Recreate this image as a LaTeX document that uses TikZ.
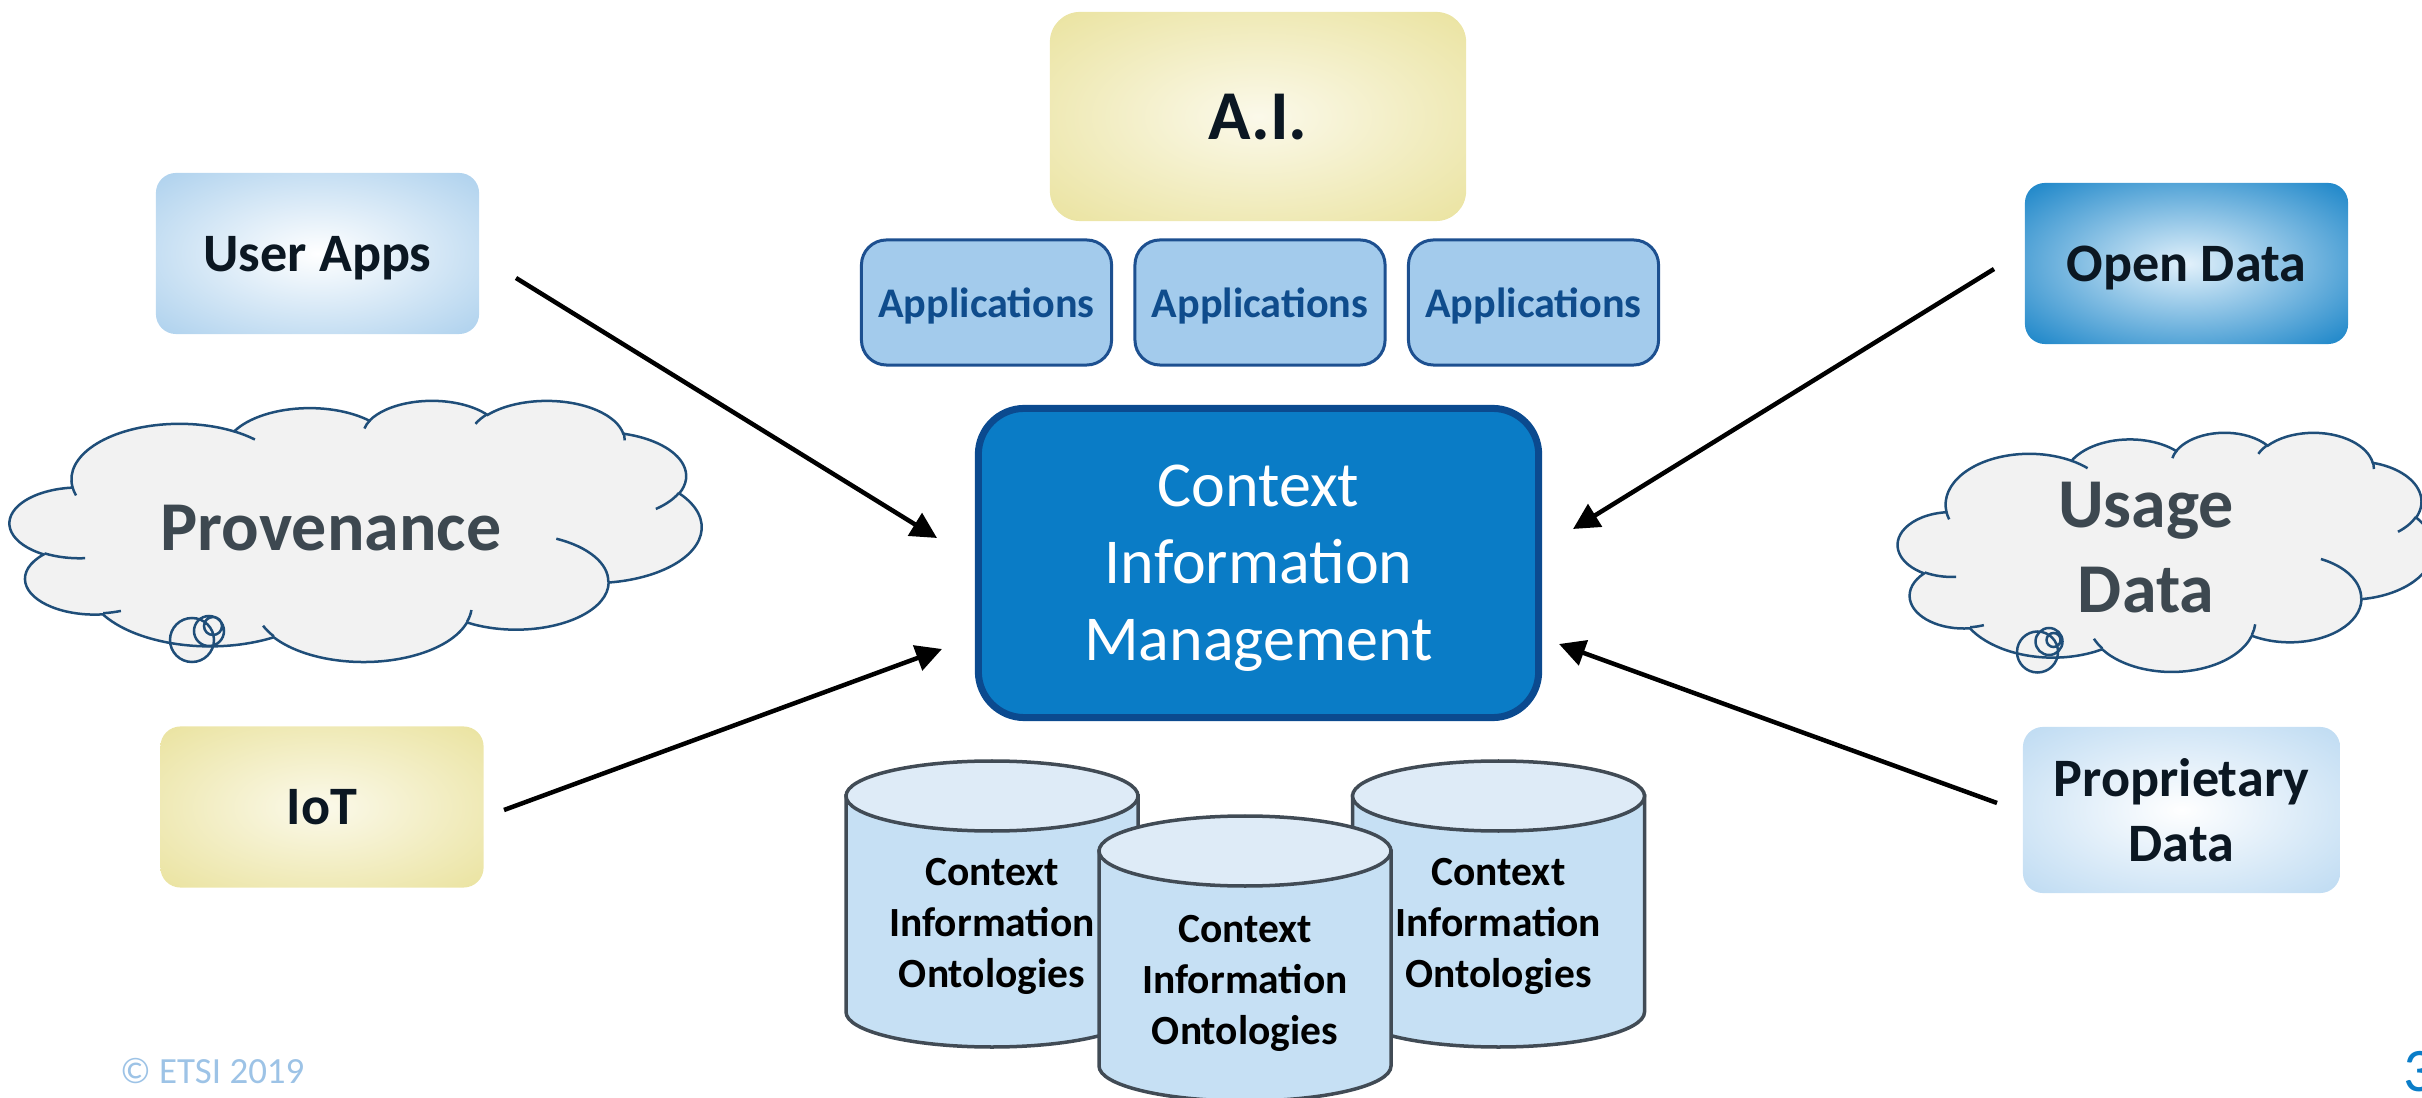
\documentclass[tikz,border=0pt]{standalone}
\usepackage{fontspec}
\setmainfont{Carlito}
\usetikzlibrary{arrows.meta}
\definecolor{yelc}{HTML}{FBF9EA}
\definecolor{yelo}{HTML}{E8E096}
\definecolor{ltbo}{HTML}{A3CBEB}
\definecolor{prbo}{HTML}{AED2EF}
\definecolor{opbc}{HTML}{E2F1FB}
\definecolor{opbo}{HTML}{0A7CC4}
\definecolor{cimfill}{HTML}{0A7CC6}
\definecolor{cimline}{HTML}{0B4A8F}
\definecolor{appfill}{HTML}{A3CBEC}
\definecolor{appline}{HTML}{1D5090}
\definecolor{apptext}{HTML}{0F4C8C}
\definecolor{cloudfill}{HTML}{F2F2F2}
\definecolor{cloudline}{HTML}{1F4E79}
\definecolor{cloudtext}{HTML}{3D4850}
\definecolor{cylbody}{HTML}{C6E0F4}
\definecolor{cyltop}{HTML}{DEEBF7}
\definecolor{cylline}{HTML}{414B55}
\definecolor{darktext}{HTML}{0B1722}
\definecolor{etsi}{HTML}{9DC3E6}
\definecolor{pagenum}{HTML}{0A7DC8}
\pgfdeclareradialshading{yelrad}{\pgfpoint{0bp}{0bp}}{color(0bp)=(yelc); color(40bp)=(yelo); color(50bp)=(yelo)}
\pgfdeclareradialshading{ltbrad}{\pgfpoint{0bp}{0bp}}{color(0bp)=(white); color(40bp)=(ltbo); color(50bp)=(ltbo)}
\pgfdeclareradialshading{prbrad}{\pgfpoint{0bp}{0bp}}{color(0bp)=(white); color(44bp)=(prbo); color(50bp)=(prbo)}
\pgfdeclareradialshading{opbrad}{\pgfpoint{0bp}{0bp}}{color(0bp)=(opbc); color(38bp)=(opbo); color(50bp)=(opbo)}
\newcommand\myfs[2]{\fontsize{#1}{#2}\selectfont}
\tikzset{
  every node/.style={inner sep=0pt, outer sep=0pt, align=center, text depth=0pt},
  gradbox/.style={rounded corners=2mm, minimum width=32.3mm, minimum height=16.1mm,
    text=darktext, font=\myfs{15.4}{18.6}\bfseries},
  yelbox/.style={gradbox, shade, shading=yelrad},
  ltbbox/.style={gradbox, shade, shading=ltbrad},
  prbbox/.style={gradbox, shade, shading=prbrad},
  opbbox/.style={gradbox, shade, shading=opbrad},
  appbox/.style={draw=appline, line width=0.3mm, fill=appfill, rounded corners=2.5mm,
    minimum width=25mm, minimum height=12.5mm, text=apptext, font=\myfs{12}{14.4}\bfseries},
  cimbox/.style={draw=cimline, line width=0.7mm, fill=cimfill, rounded corners=4.6mm,
    minimum width=56mm, minimum height=30.9mm, text=white, font=\myfs{18.2}{21.9}},
  cloudbody/.style={fill=cloudfill, draw=cloudline, line width=0.25mm},
  cloudedge/.style={draw=cloudline, line width=0.25mm},
  cloudtxt/.style={text=cloudtext, font=\myfs{19.9}{24.2}\bfseries},
  cylbodystyle/.style={fill=cylbody, draw=cylline, line width=0.35mm},
  cyltopstyle/.style={fill=cyltop, draw=cylline, line width=0.35mm},
  cyltext/.style={text=black, font=\myfs{11.8}{14.5}\bfseries},
  arr/.style={draw=black, line width=0.45mm, -{Triangle[length=2.6mm,width=2.6mm]}}
}
\newcommand\pptcloud[4]{%
  \begin{scope}[shift={(#1,#2)}, x=#3, y=#4]
    \path[cloudbody] (9.028,33.264)
      arc[start angle=-187.75, end angle=-59.64, x radius=15.632, y radius=21.273]
      arc[start angle=-152.02, end angle=-45.46, x radius=12.345, y radius=16.822]
      arc[start angle=-153.49, end angle=-37.33, x radius=10.104, y radius=13.762]
      arc[start angle=-139.71, end angle=-10.21, x radius=11.243, y radius=15.266]
      arc[start angle=-74.77, end angle=23.21, x radius=12.345, y radius=16.836]
      arc[start angle=-37.52, end angle=81.86, x radius=15.683, y radius=21.343]
      arc[start angle=0.46, end angle=121.98, x radius=13.391, y radius=18.211]
      arc[start angle=16.84, end angle=146.24, x radius=15.630, y radius=21.331]
      arc[start angle=58.98, end angle=150.19, x radius=17.870, y radius=24.405]
      arc[start angle=-276.69, end angle=-136.90, x radius=10.093, y radius=13.699]
      arc[start angle=-239.64, end angle=-95.89, x radius=10.058, y radius=13.762]
      -- cycle;
    \path[cloudedge]
      (10.863,60.595) arc[start angle=85.55, end angle=120.36, x radius=10.058, y radius=13.762]
      (16.037,80.785) arc[start angle=68.23, end angle=83.31, x radius=10.093, y radius=13.699]
      (38.144,90.486) arc[start angle=146.24, end angle=158.47, x radius=15.630, y radius=21.331]
      (66.729,80.442) arc[start angle=4.74, end angle=16.84, x radius=15.630, y radius=21.331]
      (79.002,53.134) arc[start angle=-64.03, end angle=0.46, x radius=13.391, y radius=18.211]
      (96.755,35.542) arc[start angle=23.21, end angle=49.65, x radius=12.345, y radius=16.836]
      (88.713,12.560) arc[start angle=-10.21, end angle=0.82, x radius=11.243, y radius=15.266]
      (67.310,9.148) arc[start angle=-156.30, end angle=-139.71, x radius=11.243, y radius=15.266]
      (51.252,10.926) arc[start angle=-167.72, end angle=-153.49, x radius=10.104, y radius=13.762]
      (32.407,12.019) arc[start angle=-59.64, end angle=-45.73, x radius=15.632, y radius=21.273]
      (9.553,36.549) arc[start angle=163.19, end angle=172.25, x radius=15.632, y radius=21.273];
  \end{scope}}
\newcommand\cylshape[3]{%
  \path[cylbodystyle] (#1-146,#2) -- (#1-146,#3)
    arc[start angle=180, end angle=0, x radius=146, y radius=35] -- (#1+146,#2) -- cycle;
  \path[cyltopstyle] (#1,#2) ellipse[x radius=146, y radius=35];}
\begin{document}
\begin{tikzpicture}[x=0.01cm, y=-0.01cm]
\useasboundingbox (0,0) rectangle (2422,1098);
\clip (0,0) rectangle (2422,1098);
% Provenance cloud
\fill[cloudfill] (192,640) circle[radius=22] (209,631) circle[radius=15] (213,626) circle[radius=9];
\pptcloud{10}{400}{0.0691cm}{-0.0261cm}
\draw[cloudedge] (192,640) circle[radius=22] (209,631) circle[radius=15] (213,626) circle[radius=9];
\node[cloudtxt] (prov) at (331,528) {Provenance};
% Usage Data cloud
\fill[cloudfill] (2037.5,652) circle[radius=20.5] (2049,641.5) circle[radius=13.5] (2053.5,640) circle[radius=7];
\pptcloud{1898}{432}{0.0535cm}{-0.0239cm}
\draw[cloudedge] (2037.5,652) circle[radius=20.5] (2049,641.5) circle[radius=13.5] (2053.5,640) circle[radius=7];
\node[cloudtxt] (usage) at (2146,547) {Usage\\Data};
% top
\node[yelbox, minimum width=41.6mm, minimum height=20.9mm, rounded corners=3mm,
  font=\myfs{19.9}{24}\bfseries] (ai) at (1258,116.5) {A.I.};
\node[appbox] (app1) at (986.5,302.5) {Applications};
\node[appbox] (app2) at (1260,302.5) {Applications};
\node[appbox] (app3) at (1533.5,302.5) {Applications};
% centre
\node[cimbox] (cim) at (1258.5,563) {Context\\Information\\Management};
% side boxes
\node[ltbbox] (ua) at (317.5,253.5) {User Apps};
\node[yelbox] (iot) at (322,807) {IoT};
\node[opbbox] (od) at (2186.5,263.5) {Open Data};
\node[prbbox, minimum width=31.7mm, minimum height=16.6mm] (pd) at (2181.5,810) {Proprietary\\Data};
% cylinders
\cylshape{992}{796}{1012}
\node[cyltext] (ont1) at (992,923) {Context\\Information\\Ontologies};
\cylshape{1498.5}{796}{1012}
\node[cyltext] (ont3) at (1498.5,923) {Context\\Information\\Ontologies};
\cylshape{1245}{851}{1066}
\node[cyltext] (ont2) at (1245,980) {Context\\Information\\Ontologies};
% arrows
\coordinate (uaS) at (516,278);   \coordinate (uaE) at (937,538);
\coordinate (iotS) at (504,810);  \coordinate (iotE) at (942,649);
\coordinate (odS) at (1994,269);  \coordinate (odE) at (1573,529);
\coordinate (pdS) at (1997,803);  \coordinate (pdE) at (1559,644);
\draw[arr] (uaS) -- (uaE);
\draw[arr] (iotS) -- (iotE);
\draw[arr] (odS) -- (odE);
\draw[arr] (pdS) -- (pdE);
% footer
\node[anchor=west, text=etsi, font=\myfs{10.5}{12.6}] (copyr) at (120,1071) {© ETSI 2019};
\node[anchor=west, text=pagenum, font=\myfs{17.6}{21}] (pnum) at (2403,1071) {3};
\end{tikzpicture}
\end{document}
